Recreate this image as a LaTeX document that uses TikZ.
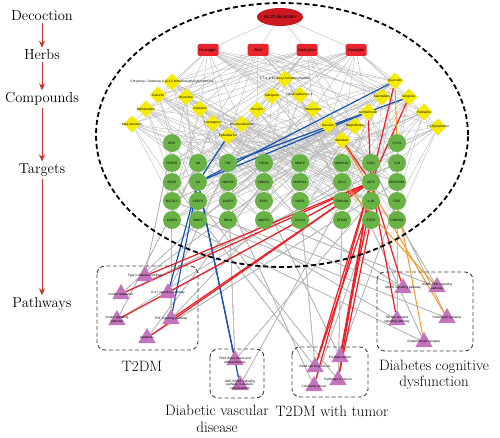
\documentclass[tikz,border=0pt]{standalone}
\usepackage{fontspec}
\setsansfont{Liberation Sans}
\usetikzlibrary{shapes,arrows.meta,positioning,backgrounds,calc}
\definecolor{hlred}{RGB}{204,24,32}
\definecolor{herbred}{RGB}{232,36,44}
\definecolor{cpdyellow}{RGB}{246,234,0}
\definecolor{tgtgreen}{RGB}{104,178,70}
\definecolor{pwpurple}{RGB}{196,116,188}
\definecolor{edgered}{RGB}{236,28,36}
\definecolor{edgeblue}{RGB}{22,84,176}
\definecolor{edgeorange}{RGB}{246,150,36}
\definecolor{arrowred}{RGB}{196,52,44}
\tikzset{
	decoc/.style={ellipse, fill=hlred, minimum width=46pt, minimum height=18pt, inner sep=0pt, font=\sffamily\fontsize{4.5}{5}\selectfont},
	herb/.style={rectangle, rounded corners=1.5pt, fill=herbred, minimum width=21pt, minimum height=12pt, inner sep=0pt, font=\sffamily\fontsize{4}{5}\selectfont},
	cpd/.style={diamond, fill=cpdyellow, minimum width=17pt, minimum height=17pt, inner sep=0pt},
	tgt/.style={circle, fill=tgtgreen, minimum size=18pt, inner sep=0pt, font=\sffamily\fontsize{3.2}{4}\selectfont},
	pw/.style={regular polygon, regular polygon sides=3, fill=pwpurple, minimum size=20pt, inner sep=0pt},
	tinylabel/.style={font=\sffamily\fontsize{3.2}{3.8}\selectfont, align=center, inner sep=0pt},
	catlabel/.style={font=\fontsize{14.5}{16}\selectfont, inner sep=2pt},
	grplabel/.style={font=\fontsize{15}{16.5}\selectfont, align=center, inner sep=0pt},
	catarrow/.style={arrowred, line width=0.8pt, -{Stealth[length=7pt,width=6pt]}},
	gedge/.style={gray!55, line width=0.4pt},
	redge/.style={edgered, line width=1.2pt},
	bedge/.style={edgeblue, line width=1.2pt},
	oedge/.style={edgeorange, line width=1pt},
	bigring/.style={line width=1.8pt, dash pattern=on 5pt off 3pt},
	grpbox/.style={black!75, line width=0.9pt, dash pattern=on 4pt off 2.5pt, rounded corners=8pt}
}
\begin{document}
\begin{tikzpicture}[x=1pt, y=-1pt]
	\useasboundingbox (0,0) rectangle (500,438);
	
	% levels on the left
	\node[catlabel] (lDec) at (42,16) {Decoction};
	\node[catlabel] (lHerb) at (42,55) {Herbs};
	\node[catlabel] (lCpd) at (42,99) {Compounds};
	\node[catlabel] (lTgt) at (42,170) {Targets};
	\node[catlabel] (lPw) at (42,304) {Pathways};
	\draw[catarrow] (lDec) -- (lHerb);
	\draw[catarrow] (lHerb) -- (lCpd);
	\draw[catarrow] (lCpd) -- (lTgt);
	\draw[catarrow] (lTgt) -- (lPw);
	
	\draw[bigring] (282,135) ellipse [x radius=186pt, y radius=132pt];
	\draw[grpbox] (97,266) rectangle (198,350);
	\draw[grpbox] (210,349) rectangle (264,398);
	\draw[grpbox] (292,347) rectangle (368,397);
	\draw[grpbox] (377,272) rectangle (473,351);
	
	\node[decoc] (hljd) at (280,17) {HLJD decoction};
	\foreach \n/\x/\t in {1/208/Huangqin, 2/258/Zhizi, 3/307/Huanglian, 4/356/Huangbo}
		\node[herb] (h\n) at (\x,50) {\t};
	
	\foreach \n/\x/\y/\t in {
		1/172/82/{5-Hydroxy-7-methoxy-2-(3,4,5-trimethoxyphenyl)chromone},
		2/158/95/Acacetin, 3/186/97/Worenine, 4/146/109/Berberrubine,
		5/132/124/Beta-sitosterol, 6/200/109/Coptisine, 7/213/123/Norwogonin,
		8/242/124/Moslosooflavone, 9/228/136/Epiberberine,
		10/285/79/{5,7,4'-Trihydroxy-8-methoxyflavone},
		11/272/96/Salvigenin, 12/300/95/{Skullcapflavone II}, 13/257/110/Oroxylin,
		14/313/109/Obacunone, 15/328/125/Baicalin, 16/355/126/Magnoflorine,
		17/342/140/Baicalein, 18/395/81/Quercetin, 19/382/97/Kaempferol,
		20/409/97/Wogonin, 21/368/112/Isorhamnetin, 22/424/112/Palmatine,
		23/438/127/{(+)-Epicatechin}}
		\node[cpd, label={[tinylabel]center:\t}] (c\n) at (\x,\y) {};
	
	\foreach \n/\x/\y/\t in {
		1/172/143/MYC, 2/172/163/PPARG, 3/172/182/EGFR, 4/172/201/BCL2L1, 5/172/220/CASP8,
		6/198/163/AR, 7/198/182/IL6, 8/198/201/VEGFA, 9/198/220/MMP2,
		10/228/163/TNF, 11/228/182/MAPK8, 12/228/201/CASP3, 13/228/220/RELA,
		14/264/163/HIF1A, 15/264/182/HMOX1, 16/264/201/ESR1, 17/264/220/MAPK1,
		18/300/163/MMP9, 19/300/182/MAPK14, 20/300/201/NOS3, 21/300/220/CXCL8,
		22/342/163/MAPK10, 23/342/182/CCL2, 24/342/201/CDKN1A, 25/342/220/PTGS2,
		26/371/163/CAV1, 27/371/182/AKT1, 28/371/201/IL1B, 29/371/220/STAT1,
		30/397/143/CYCS, 31/397/163/JUN, 32/397/182/SERPINE1, 33/397/201/FOS, 34/397/220/CDKN2A}
		\node[tgt] (t\n) at (\x,\y) {\t};
	
	\foreach \n/\x/\y/\t in {
		1/145/276/{Type II diabetes mellitus}, 2/121/294/{Insulin resistance},
		3/168/293/{IL-17 signaling pathway}, 4/117/320/{Insulin signaling\\pathway},
		5/171/319/{TNF signaling pathway}, 6/147/338/Apoptosis,
		7/235/360/{Fluid shear stress and\\atherosclerosis},
		8/240/385/{AGE-RAGE signaling\\pathway in diabetic\\complications},
		9/315/367/{Small cell lung cancer}, 10/340/357/{Prostate cancer},
		11/314/386/{Colorectal cancer}, 12/338/380/{Pathways in cancer},
		13/403/288/{MAPK signaling pathway}, 14/437/287/{cGMP-PKG signaling\\pathway},
		15/397/320/{Toll-like receptor\\signaling pathway}, 16/447/318/{Cholinergic synapse},
		17/424/342/{Dopaminergic synapse}}
		\node[pw, label={[tinylabel]center:\t}] (p\n) at (\x,\y) {};
	
	\node[grplabel] (gA) at (142,366) {T2DM};
	\node[grplabel] (gB) at (217,419) {Diabetic vascular\\disease};
	\node[grplabel] (gC) at (332,411) {T2DM with tumor};
	\node[grplabel] (gD) at (434,375) {Diabetes cognitive\\dysfunction};
	
	\begin{scope}[on background layer]
		\foreach \n in {1,...,4}
			\draw[gedge] (hljd) -- (h\n);
		\foreach \h in {1,...,4}
			\foreach \c in {1,...,23}{
				\pgfmathtruncatemacro{\k}{mod(\c+2*\h,3)}
				\ifnum\k>0 \draw[gedge] (h\h) -- (c\c); \fi
			}
		\foreach \i in {1,...,190}{
			\pgfmathtruncatemacro{\ca}{mod(\i*7,23)+1}
			\pgfmathtruncatemacro{\ta}{mod(\i*13,34)+1}
			\draw[gedge] (c\ca) -- (t\ta);
		}
		\foreach \i in {1,...,150}{
			\pgfmathtruncatemacro{\tb}{mod(\i*5,34)+1}
			\pgfmathtruncatemacro{\pb}{mod(\i*3,17)+1}
			\draw[gedge] (t\tb) -- (p\pb);
		}
		% highlighted links
		\foreach \a/\b in {c18/t7, c20/t10, c21/t7, c9/t7, t7/p3, t7/p5, t7/p7, t7/p8}
			\draw[bedge] (\a) -- (\b);
		\foreach \a/\b in {c18/t27, c20/t27, c21/t27, c17/t27, t27/p1, t27/p2, t27/p4, t27/p5, t27/p6,
			t27/p9, t27/p10, t27/p11, t27/p12, t27/p13, t27/p15, t28/p9, t28/p10, t29/p12}
			\draw[redge] (\a) -- (\b);
		\foreach \a/\b in {c18/t30, c17/p16, t33/p17, t23/p14}
			\draw[oedge] (\a) -- (\b);
	\end{scope}
\end{tikzpicture}
\end{document}
